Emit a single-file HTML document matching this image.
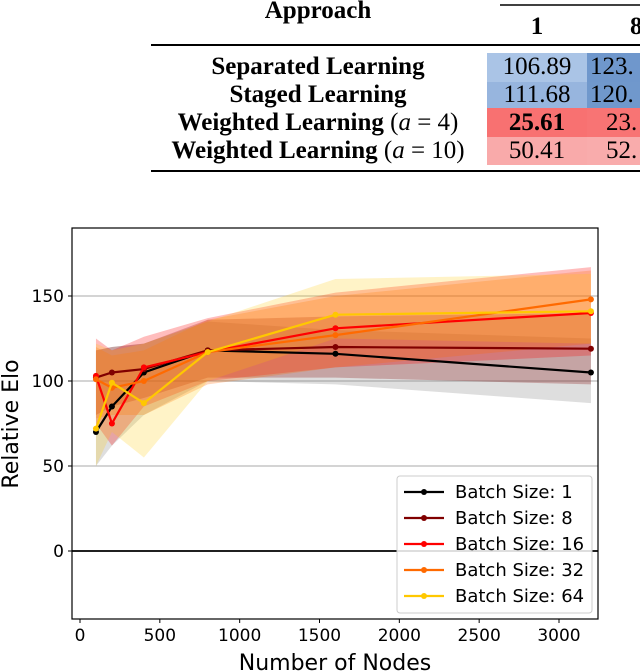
<!DOCTYPE html>
<html><head><meta charset="utf-8"><style>
body{margin:0;width:640px;height:671px;background:#fff;overflow:hidden}
svg{display:block}
.tb{font-family:"Liberation Serif",serif;font-size:25px;fill:#000}
.ax{font-family:"DejaVu Sans","Liberation Sans",sans-serif;fill:#000}
</style></head><body>
<svg width="640" height="671">
<g>
<line x1="500" y1="5" x2="640" y2="5" stroke="#000" stroke-width="1.5"/>
<line x1="151" y1="45" x2="640" y2="45" stroke="#000" stroke-width="2"/>
<line x1="151" y1="171" x2="640" y2="171" stroke="#000" stroke-width="2"/>
<text class="tb" x="318" y="18" text-anchor="middle" font-weight="bold" font-size="23">Approach</text>
<text class="tb" x="537" y="34" text-anchor="middle" font-weight="bold">1</text>
<text class="tb" x="630" y="34" font-weight="bold">8</text>
<rect x="487" y="53" width="100" height="29" fill="#aac4e6"/><rect x="587" y="53" width="53" height="29" fill="#6f97cc"/>
<rect x="487" y="82" width="100" height="26" fill="#97b5de"/><rect x="587" y="82" width="53" height="26" fill="#7098cc"/>
<rect x="487" y="108" width="100" height="29" fill="#f87171"/><rect x="587" y="108" width="53" height="29" fill="#f87474"/>
<rect x="487" y="137" width="100" height="28" fill="#f9aaaa"/><rect x="587" y="137" width="53" height="28" fill="#f9acac"/>
<text class="tb" x="318" y="74" text-anchor="middle" font-weight="bold">Separated Learning</text>
<text class="tb" x="318" y="102" text-anchor="middle" font-weight="bold">Staged Learning</text>
<text class="tb" x="318" y="130" text-anchor="middle" font-weight="bold">Weighted Learning <tspan font-weight="normal">(<tspan font-style="italic">a</tspan> = 4)</tspan></text>
<text class="tb" x="318" y="158" text-anchor="middle" font-weight="bold">Weighted Learning <tspan font-weight="normal">(<tspan font-style="italic">a</tspan> = 10)</tspan></text>
<text class="tb" x="537" y="74" text-anchor="middle">106.89</text><text class="tb" x="590" y="74">123.</text>
<text class="tb" x="537" y="102" text-anchor="middle">111.68</text><text class="tb" x="590" y="102">120.</text>
<text class="tb" x="537" y="130" text-anchor="middle" font-weight="bold">25.61</text><text class="tb" x="606" y="130">23.</text>
<text class="tb" x="537" y="158" text-anchor="middle">50.41</text><text class="tb" x="606" y="158">52.</text>
</g>
<g id="chart"></g>
</svg>
<script>
const nodes=[100,200,400,800,1600,3200];
const labels=["Batch Size: 1","Batch Size: 8","Batch Size: 16","Batch Size: 32","Batch Size: 64"];
const colors=["#000000","#800000","#ff0000","#ff6a00","#ffc800"];
const s1=[70,85,105,118,116,105];
const s8=[102,105,107,118,120,119];
const s16=[103,75,108,117,131,140];
const s32=[101,96,100,117,127,148];
const s64=[72,99,87,117,139,141];
const lo1=[50,62,80,100,98,87];
const hi1=[118,120,122,135,130,125];
const lo8=[80,85,90,102,102,98];
const hi8=[118,120,122,136,138,140];
const lo16=[75,62,85,100,108,115];
const hi16=[125,118,126,137,152,167];
const lo32=[78,80,80,98,108,122];
const hi32=[120,115,118,136,150,165];
const lo64=[50,70,55,100,125,122];
const hi64=[122,118,122,135,160,163];
const xTicks=[0,500,1000,1500,2000,2500,3000];
const yTicks=[0,50,100,150];
const series=[s1,s8,s16,s32,s64], los=[lo1,lo8,lo16,lo32,lo64], his=[hi1,hi8,hi16,hi32,hi64];
const L=72,R=598,T=228,B=619;
const X=v=>80+v*(559-80)/3000;
const Y=v=>551-v*85/50;
const NS="http://www.w3.org/2000/svg";
const g=document.getElementById('chart');
function mk(t,a,p){const e=document.createElementNS(NS,t);for(const k in a)e.setAttribute(k,a[k]);(p||g).appendChild(e);return e;}
yTicks.forEach(v=>{if(v>0){const l=mk('line',{x1:L,x2:R,y1:Y(v),y2:Y(v),stroke:'#bbb','stroke-width':1.2});

}
mk('line',{x1:L-4,x2:L,y1:Y(v),y2:Y(v),stroke:'#000'});
const t=mk('text',{x:L-8,y:Y(v)+6,'text-anchor':'end','font-size':17,class:'ax'});t.textContent=v;

});
series.forEach((s,i)=>{let pts=nodes.map((n,j)=>X(n)+','+Y(his[i][j]));
pts=pts.concat(nodes.slice().reverse().map((n,j)=>X(n)+','+Y(los[i][nodes.length-1-j])));
const p=mk('polygon',{points:pts.join(' '),fill:i==0?'#808080':colors[i],'fill-opacity':i==4?0.22:0.26});

});
const z=mk('line',{x1:L,x2:R,y1:Y(0),y2:Y(0),stroke:'#000','stroke-width':1.8});


series.forEach((s,i)=>{const pl=mk('polyline',{points:nodes.map((n,j)=>X(n)+','+Y(s[j])).join(' '),fill:'none',stroke:colors[i],'stroke-width':2.2});


nodes.forEach((n,j)=>{const c=mk('circle',{cx:X(n),cy:Y(s[j]),r:3,fill:colors[i]});

});});
const fr=mk('rect',{x:L,y:T,width:R-L,height:B-T,fill:'none',stroke:'#000','stroke-width':1.2});


xTicks.forEach(v=>{mk('line',{x1:X(v),x2:X(v),y1:B,y2:B+4,stroke:'#000'});
const t=mk('text',{x:X(v),y:B+22,'text-anchor':'middle','font-size':17,class:'ax'});t.textContent=v;

});
const xt=mk('text',{x:335,y:670,'text-anchor':'middle','font-size':22,class:'ax'});xt.textContent='Number of Nodes';


const yt=mk('text',{x:0,y:0,'text-anchor':'middle','font-size':22,class:'ax',transform:'translate(18,424) rotate(-90)'});yt.textContent='Relative Elo';


const lg=mk('g',{});


mk('rect',{x:397,y:476,width:195,height:137,rx:3,fill:'#fff','fill-opacity':0.85,stroke:'#ccc'},lg);
labels.forEach((lb,i)=>{const y=492+i*26;
mk('line',{x1:404,x2:444,y1:y,y2:y,stroke:colors[i],'stroke-width':2.2},lg);
mk('circle',{cx:424,cy:y,r:3,fill:colors[i]},lg);
const t=mk('text',{x:455,y:y+6,'font-size':18,class:'ax'},lg);t.textContent=lb;

});
</script>
</body></html>
